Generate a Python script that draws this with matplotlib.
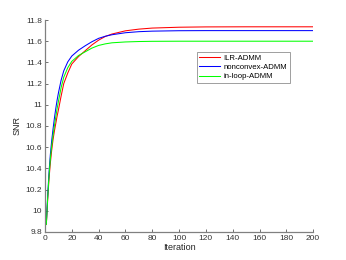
import matplotlib
matplotlib.use("Agg")
import matplotlib.pyplot as plt

plt.rcParams['font.family'] = ['Liberation Sans', 'DejaVu Sans']

iters = [1, 2, 3, 4, 5, 6, 7, 8, 9, 10, 12, 14, 17, 20, 25, 30, 35, 40, 45, 50, 60, 70, 80, 100, 120, 150, 200]
ilr = [9.87, 10.10, 10.30, 10.45, 10.57, 10.67, 10.75, 10.82, 10.89, 10.95, 11.08, 11.20, 11.30, 11.385, 11.455,
       11.51, 11.565, 11.61, 11.645, 11.668, 11.698, 11.714, 11.724, 11.732, 11.735, 11.736, 11.736]
nonconvex = [9.88, 10.14, 10.36, 10.53, 10.66, 10.77, 10.87, 10.96, 11.04, 11.11, 11.23, 11.32, 11.405, 11.46, 11.515,
             11.557, 11.595, 11.627, 11.647, 11.661, 11.68, 11.69, 11.695, 11.699, 11.70, 11.70, 11.70]
inloop = [9.87, 10.12, 10.33, 10.49, 10.61, 10.71, 10.80, 10.88, 10.96, 11.03, 11.16, 11.26, 11.35, 11.41, 11.465,
          11.50, 11.535, 11.56, 11.575, 11.585, 11.593, 11.597, 11.599, 11.60, 11.60, 11.60, 11.60]

labels = ['ILR-ADMM', 'nonconvex-ADMM', 'in-loop-ADMM']
colors = ['#ff0000', '#0000ff', '#00ff00']

yticks = [9.8, 10, 10.2, 10.4, 10.6, 10.8, 11, 11.2, 11.4, 11.6, 11.8]
ytick_labels = ['9.8', '10', '10.2', '10.4', '10.6', '10.8', '11', '11.2', '11.4', '11.6', '11.8']
xticks = [0, 20, 40, 60, 80, 100, 120, 140, 160, 180, 200]

fig = plt.figure(figsize=(3.46, 2.6), dpi=100)
ax = fig.add_axes([0.130, 0.108, 0.775, 0.815])

for y, c, l in zip([ilr, nonconvex, inloop], colors, labels):
    ax.plot(iters, y, color=c, lw=0.75, label=l)

ax.set_xlim(0, 200)
ax.set_ylim(9.8, 11.8)
ax.set_xticks(xticks)
ax.set_xticklabels([str(x) for x in xticks])
ax.set_yticks(yticks)
ax.set_yticklabels(ytick_labels)
for s in ['top', 'right']:
    ax.spines[s].set_visible(False)
for s in ['left', 'bottom']:
    ax.spines[s].set_color('0.5')
    ax.spines[s].set_linewidth(0.9)
ax.tick_params(direction='in', length=2.5, width=0.6, color='0.35', labelsize=6, labelcolor='0.2', pad=2)
ax.set_xlabel('Iteration', fontsize=6.5, color='0.15', labelpad=1)
ax.set_ylabel('SNR', fontsize=6.5, color='0.15', labelpad=3)

leg = ax.legend(loc='upper left', bbox_to_anchor=(0.566, 0.85), fontsize=5.6, frameon=True,
                fancybox=False, edgecolor='0.45', handlelength=2.6, borderpad=0.35, labelspacing=0.22,
                handletextpad=0.5, borderaxespad=0)
leg.get_frame().set_linewidth(0.6)

fig.savefig('out.png', dpi=100)
